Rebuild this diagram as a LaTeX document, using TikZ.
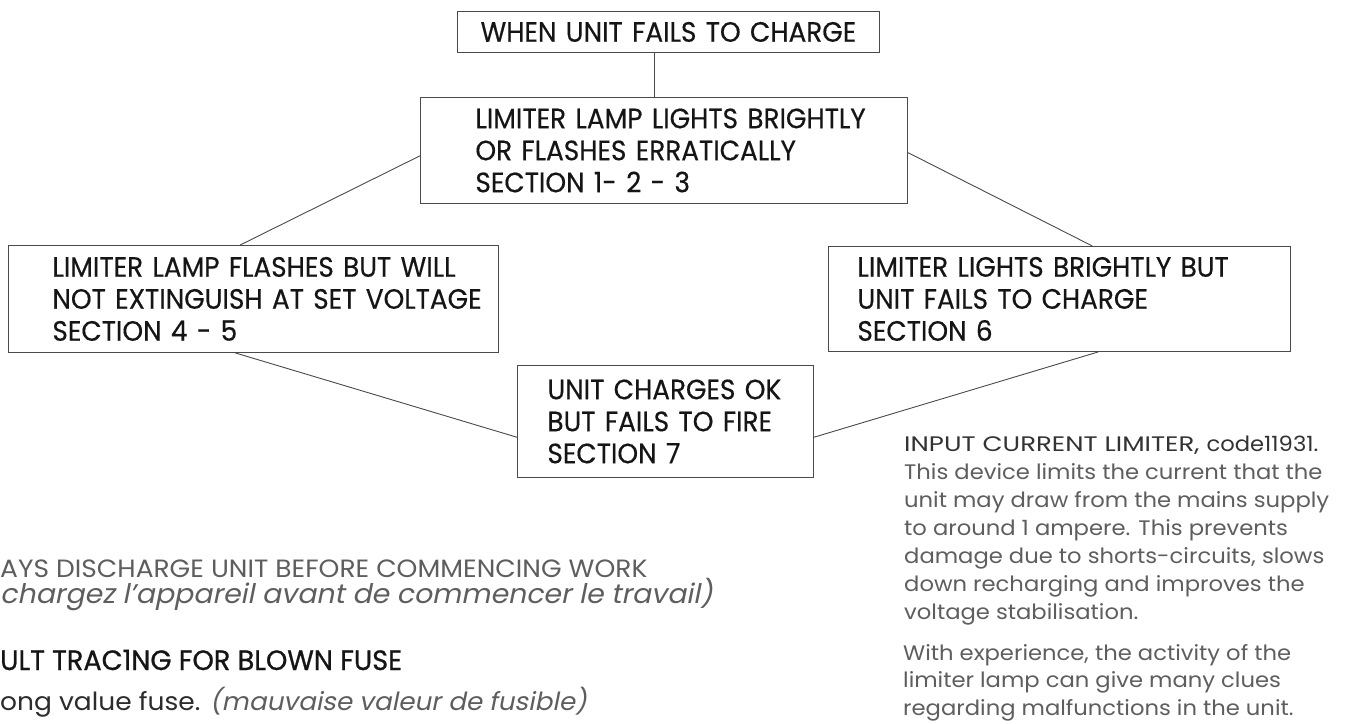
\documentclass[tikz,border=0pt]{standalone}
\usepackage{fontspec}
\setmainfont{Poppins}
\newfontfamily\boxfont{Poppins}[FakeStretch=0.94,FakeBold=0.4]
\newfontfamily\notefont{Poppins}[FakeStretch=1.08]
\newfontfamily\notecapfont{Poppins}[FakeStretch=1.24]
\newfontfamily\sidefont{Poppins}[FakeStretch=1.06]
\newfontfamily\sideitfont{Poppins}[FakeStretch=1.05,FakeSlant=0.2]
\newfontfamily\headfont{Poppins}[FakeStretch=0.97,FakeBold=0.8]
\usetikzlibrary{calc}
\definecolor{ink}{HTML}{151515}
\definecolor{edgec}{HTML}{4A4A4A}
\definecolor{greya}{HTML}{333333}
\definecolor{greyb}{HTML}{5E5E5E}
\begin{document}
\begin{tikzpicture}[x=1pt,y=-1pt,
  box/.style={draw=edgec, line width=0.9pt, anchor=north west, inner ysep=0pt,
    text=ink, align=left, font=\boxfont\fontsize{28}{32}\selectfont},
  link/.style={draw=edgec, line width=0.9pt},
  note/.style={anchor=base west, inner sep=0pt, text=greyb, font=\notefont\fontsize{21}{24}\selectfont},
  side/.style={anchor=base west, inner sep=0pt, text=greyb, font=\sidefont\fontsize{25}{28}\selectfont}]
\useasboundingbox (0,0) rectangle (1348,723);
\fill[white] (0,0) rectangle (1348,723);

% boxes
\node[box, align=center, inner xsep=0pt, text width=422pt, minimum height=41pt] (top) at (457,11)
  {WHEN UNIT FAILS TO CHARGE};
\node[box, inner xsep=55pt, text width=377pt, minimum height=106pt] (b2) at (420,97)
  {\mbox{LIMITER LAMP LIGHTS BRIGHTLY}\\\mbox{OR FLASHES ERRATICALLY}\\\mbox{SECTION 1- 2 - 3}};
\node[box, inner xsep=44pt, text width=402pt, minimum height=107pt] (b45) at (8,245)
  {\mbox{LIMITER LAMP FLASHES BUT WILL}\\\mbox{NOT EXTINGUISH AT SET VOLTAGE}\\\mbox{SECTION 4 - 5}};
\node[box, inner xsep=29pt, text width=404pt, minimum height=105pt] (b6) at (828,246)
  {\mbox{LIMITER LIGHTS BRIGHTLY BUT}\\\mbox{UNIT FAILS TO CHARGE}\\\mbox{SECTION 6}};
\node[box, inner xsep=30pt, text width=236pt, minimum height=112pt] (b7) at (517,365)
  {\mbox{UNIT CHARGES OK}\\\mbox{BUT FAILS TO FIRE}\\\mbox{SECTION 7}};

% connectors
\coordinate (topdrop) at ($(top.south west)!0.466!(top.south east)$);
\draw[link] (topdrop) -- (topdrop |- b2.north);
\draw[link] ($(b2.north west)!0.55!(b2.south west)$) -- ($(b45.north west)!0.473!(b45.north east)$);
\draw[link] ($(b2.north east)!0.52!(b2.south east)$) -- ($(b6.north west)!0.571!(b6.north east)$);
\draw[link] ($(b45.south west)!0.463!(b45.south east)$) -- ($(b7.north west)!0.64!(b7.south west)$);
\draw[link] ($(b7.north east)!0.64!(b7.south east)$) -- ($(b6.south west)!0.584!(b6.south east)$);

% right notes
\node[note, text=greya, font=\notecapfont\fontsize{21}{24}\selectfont] (r1) at (904,451) {INPUT CURRENT LIMITER, {\notefont code11931.}};
\node[note] (r2) at (904,479) {This device limits the current that the};
\node[note] (r3) at (904,507) {unit may draw from the mains supply};
\node[note] (r4) at (904,535) {to around 1 ampere. This prevents};
\node[note] (r5) at (904,563) {damage due to shorts-circuits, slows};
\node[note] (r6) at (904,591) {down recharging and improves the};
\node[note] (r7) at (904,619) {voltage stabilisation.};
\node[note] (r8) at (903,660) {With experience, the activity of the};
\node[note] (r9) at (903,687.5) {limiter lamp can give many clues};
\node[note] (r10) at (903,715) {regarding malfunctions in the unit.};

% bottom-left notes
\node[side] (l1) at (0,577) {AYS DISCHARGE UNIT BEFORE COMMENCING WORK};
\node[side, font=\sideitfont\fontsize{27}{30}\selectfont] (l2) at (0,603) {chargez l’appareil avant de commencer le travail)};
\node[side, text=ink, font=\headfont\fontsize{28}{30}\selectfont] (l3) at (0,670) {ULT TRAC1NG FOR BLOWN FUSE};
\node[side, text=ink!90] (l4) at (0,710) {ong value fuse. {\color{greyb}\sideitfont (mauvaise valeur de fusible)}};
\end{tikzpicture}
\end{document}
